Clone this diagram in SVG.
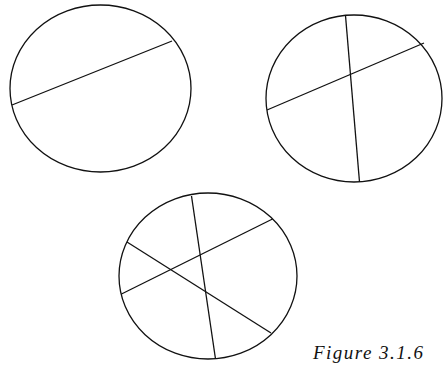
<svg xmlns="http://www.w3.org/2000/svg" width="443" height="365" viewBox="0 0 443 365">
<style>
.c{fill:none;stroke:#111;stroke-width:1.3}
.l{stroke:#111;stroke-width:1.3;fill:none}
.t{font-family:"Liberation Serif","Times New Roman",serif;font-style:italic;font-size:19px;fill:#111}
</style>
<rect width="443" height="365" fill="#fff"/>
<g id="circle1">
<ellipse class="c" cx="100.5" cy="88.5" rx="90.5" ry="83.5"/>
</g>
<g id="circle2">
<ellipse class="c" cx="354" cy="98.5" rx="88" ry="83.5"/>
</g>
<g id="circle3">
<ellipse class="c" cx="208" cy="276" rx="89" ry="83"/>
</g>
<g id="connectors">
<line class="l" x1="12" y1="105" x2="172" y2="41"/>
<line class="l" x1="267" y1="110" x2="424" y2="43"/>
<line class="l" x1="345.5" y1="15.5" x2="359.5" y2="182"/>
<line class="l" x1="191.5" y1="196" x2="215.5" y2="359"/>
<line class="l" x1="121.5" y1="294" x2="272.5" y2="219"/>
<line class="l" x1="127" y1="242" x2="271" y2="333"/>
</g>
<g id="caption">
<text class="t" x="313" y="359" textLength="110" lengthAdjust="spacing">Figure 3.1.6</text>
</g>
</svg>
